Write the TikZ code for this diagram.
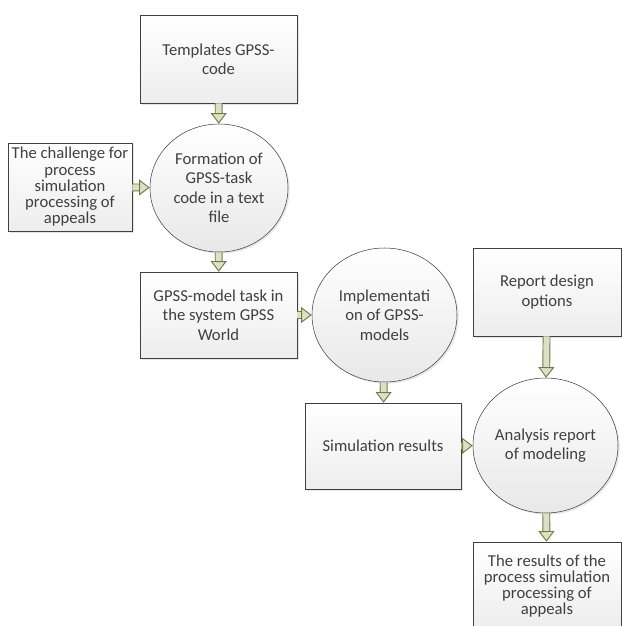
\documentclass[tikz,border=0pt]{standalone}
\usepackage{fontspec}
\setmainfont{Carlito}
\usetikzlibrary{shapes.geometric,arrows.meta,shadows}
\definecolor{arrowedge}{HTML}{6E7B45}
\definecolor{arrowfill}{HTML}{DCE0C4}
\definecolor{edgegray}{HTML}{404040}
\begin{document}
\begin{tikzpicture}[x=0.75pt,y=-0.75pt]
   \tikzstyle{every node}=[font=\fontsize{12.5}{14.6}\selectfont, align=center, text=black!75, inner sep=0pt]
   \tikzstyle{block}=[draw=edgegray, rectangle, top color=white, bottom color=black!7, drop shadow={shadow xshift=1.2pt, shadow yshift=-1.2pt, opacity=0.2}]
   \tikzstyle{oval}=[draw=edgegray, ellipse, inner xsep=-5pt, top color=white, bottom color=black!9, drop shadow={shadow xshift=1.2pt, shadow yshift=-1.2pt, opacity=0.2}]
   \tikzstyle{tight}=[font=\fontsize{12.5}{12.2}\selectfont]
   \tikzstyle{flow}=[draw=arrowedge, line width=0.7pt, double=arrowfill, double distance=4.5pt, -{Triangle[length=8pt, width=12pt, fill=arrowfill, line width=0.7pt]}]
   \useasboundingbox (0,0) rectangle (622,626);

\node[block, minimum width=117.75pt, minimum height=66pt] (tmpl) at (218.5,59) {Templates GPSS-\\code};
\node[block, tight, minimum width=93pt, minimum height=66pt] (chal) at (70,187) {The challenge for\\process\\simulation\\processing of\\appeals};
\node[oval, minimum width=103.5pt, minimum height=96pt] (form) at (219,188) {Formation of\\GPSS-task\\code in a text\\file};
\node[block, minimum width=117.75pt, minimum height=64.5pt] (task) at (218.5,315) {GPSS-model task in\\the system GPSS\\World};
\node[oval, minimum width=108.75pt, minimum height=100.5pt] (impl) at (384.5,315) {Implementati\\on of GPSS-\\models};
\node[block, minimum width=117pt, minimum height=64.5pt] (simr) at (383,446) {Simulation results};
\node[block, minimum width=111pt, minimum height=66pt] (rdo) at (547,292) {Report design\\options};
\node[oval, minimum width=108.75pt, minimum height=101.25pt] (anal) at (545.5,445.5) {Analysis report\\of modeling};
\node[block, tight, minimum width=111pt, minimum height=66pt] (res) at (547,586) {The results of the\\process simulation\\processing of\\appeals};

\draw[flow] (tmpl) -- (form);
\draw[flow] (chal) -- (form);
\draw[flow] (form) -- (task);
\draw[flow] (task) -- (impl);
\draw[flow] (impl) -- (simr);
\draw[flow] (simr) -- (anal);
\draw[flow] (rdo) -- (anal);
\draw[flow] (anal) -- (res);

\end{tikzpicture}
\end{document}
